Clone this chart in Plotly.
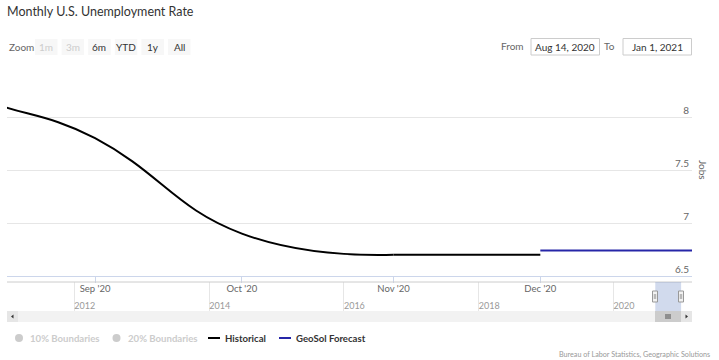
import plotly.graph_objects as go

# ---------------- data ----------------
TITLE = "Monthly U.S. Unemployment Rate"
hist_dates = ["2020-07-01", "2020-08-01", "2020-09-01", "2020-10-01", "2020-11-01", "2020-12-01"]
hist_values = [10.2, 8.4, 7.8, 6.9, 6.7, 6.7]
fc_dates = ["2020-12-01", "2021-01-01"]
fc_values = [6.74, 6.74]
y_tickvals = [6.5, 7, 7.5, 8, 8.5]
y_ticktext = ["6.5", "7", "7.5", "8", ""]
range_start, range_end = "2020-08-14", "2021-01-01"
range_start_label, range_end_label = "Aug 14, 2020", "Jan 1, 2021"
nav_start, nav_end = "2011-01-01", "2021-03-01"
zoom_buttons = ["1m", "3m", "6m", "YTD", "1y", "All"]
zoom_enabled = [False, False, True, True, True, True]
legend_names = ["10% Boundaries", "20% Boundaries", "Historical", "GeoSol Forecast"]
credits = "Bureau of Labor Statistics, Geographic Solutions"
y_title = "Jobs"

FONT = "Lato"
HIST_COLOR = "#000000"
FC_COLOR = "#2626a8"

# pixel -> paper helpers
W, H = 719, 360
L, R, T, B = 7, 692, 64, 322


def px(x):
    return (x - L) / (R - L)


def py(y):
    return (B - y) / (B - T)


fig = go.Figure()
# Historical: smoothed through the monthly points; the final flat stretch
# (equal values) is drawn straight so the spline does not overshoot.
fig.add_trace(go.Scatter(x=hist_dates[:5], y=hist_values[:5], mode="lines", name="Historical",
                         line=dict(color=HIST_COLOR, width=2, shape="spline", smoothing=1.3),
                         xaxis="x", yaxis="y"))
fig.add_trace(go.Scatter(x=hist_dates[4:], y=hist_values[4:], mode="lines", name="Historical",
                         line=dict(color=HIST_COLOR, width=2), showlegend=False,
                         xaxis="x", yaxis="y"))
fig.add_trace(go.Scatter(x=fc_dates, y=fc_values, mode="lines", name="GeoSol Forecast",
                         line=dict(color=FC_COLOR, width=2),
                         xaxis="x", yaxis="y"))
# navigator placeholder (no visible series)
fig.add_trace(go.Scatter(x=[], y=[], xaxis="x2", yaxis="y2", showlegend=False))

shapes = []
ann = []


def rect(x0, y0, x1, y1, fill, line=None, lw=0):
    shapes.append(dict(type="rect", xref="paper", yref="paper", x0=px(x0), x1=px(x1),
                       y0=py(y0), y1=py(y1), fillcolor=fill,
                       line=dict(color=line or fill, width=lw), layer="above"))


def hline(x0, x1, y, color, w=1):
    shapes.append(dict(type="line", xref="paper", yref="paper", x0=px(x0), x1=px(x1),
                       y0=py(y), y1=py(y), line=dict(color=color, width=w), layer="above"))


def vline(x, y0, y1, color, w=1):
    shapes.append(dict(type="line", xref="paper", yref="paper", x0=px(x), x1=px(x),
                       y0=py(y0), y1=py(y1), line=dict(color=color, width=w), layer="above"))


def text(x, y, s, size, color, xanchor="center", bold=False, angle=0):
    ann.append(dict(x=px(x), y=py(y), xref="paper", yref="paper", text=s, showarrow=False,
                    xanchor=xanchor, yanchor="middle", textangle=angle,
                    font=dict(family=FONT, size=size, color=color,
                              weight="bold" if bold else "normal")))


# ---- range selector (zoom buttons) ----
text(7, 47, "Zoom", 10, "#666666", xanchor="left")
bx = 35
for lab, en in zip(zoom_buttons, zoom_enabled):
    rect(bx, 39, bx + 22.5, 55, "#f7f7f7")
    text(bx + 11.25, 47, lab, 10, "#333333" if en else "#cccccc")
    bx += 26.6

# ---- from / to inputs ----
text(526, 46, "From", 10, "#666666", xanchor="right")
rect(531, 38.5, 599.5, 55, "#ffffff", "#cccccc", 1)
text(565, 46.5, range_start_label, 10, "#333333")
text(617, 46, "To", 10, "#666666", xanchor="right")
rect(623, 38.5, 691.5, 55, "#ffffff", "#cccccc", 1)
text(657, 46.5, range_end_label, 10, "#333333")

# ---- y axis title ----
text(703, 170, y_title, 10, "#666666", angle=90)

# ---- navigator ----
hline(L, R, 282, "#cccccc")
shapes.append(dict(type="rect", xref="x2", yref="paper", x0=range_start, x1=range_end,
                   y0=py(311), y1=py(282), fillcolor="rgba(102,133,194,0.3)",
                   line=dict(width=0), layer="above"))
for hx in (655, 681):
    rect(hx - 2.5, 291, hx + 2.5, 302, "#f2f2f2", "#999999", 1)
    vline(hx - 0.7, 294, 299, "#999999", 0.8)
    vline(hx + 0.7, 294, 299, "#999999", 0.8)

# ---- scrollbar ----
rect(L, 311, R, 322, "#f2f2f2")
rect(L, 311, 18, 322, "#e6e6e6")
rect(655, 311, 681, 322, "#cccccc")
rect(681, 311, R, 322, "#e6e6e6")
for gx in (666, 668, 670):
    vline(gx, 314, 319, "#333333", 0.8)
shapes.append(dict(type="path", xref="paper", yref="paper",
                   path="M {} {} L {} {} L {} {} Z".format(px(11), py(316.5), px(13.5), py(314.5), px(13.5), py(318.5)),
                   fillcolor="#333333", line=dict(width=0), layer="above"))
shapes.append(dict(type="path", xref="paper", yref="paper",
                   path="M {} {} L {} {} L {} {} Z".format(px(688), py(316.5), px(685.5), py(314.5), px(685.5), py(318.5)),
                   fillcolor="#333333", line=dict(width=0), layer="above"))

# ---- legend ----
shapes.append(dict(type="circle", xref="paper", yref="paper", x0=px(15), x1=px(23), y0=py(342), y1=py(334),
                   fillcolor="#cccccc", line=dict(width=0)))
text(28, 338, legend_names[0], 9.6, "#cccccc", xanchor="left", bold=True)
shapes.append(dict(type="circle", xref="paper", yref="paper", x0=px(112.5), x1=px(120.5), y0=py(342), y1=py(334),
                   fillcolor="#cccccc", line=dict(width=0)))
text(126, 338, legend_names[1], 9.6, "#cccccc", xanchor="left", bold=True)
hline(208, 220, 338, HIST_COLOR, 2)
text(223, 338, legend_names[2], 9.6, "#333333", xanchor="left", bold=True)
hline(279, 291, 338, FC_COLOR, 2)
text(294, 338, legend_names[3], 9.6, "#333333", xanchor="left", bold=True)

# ---- credits ----
text(712, 354, credits, 7.2, "#999999", xanchor="right")

fig.update_layout(
    width=W, height=H,
    margin=dict(l=L, r=W - R, t=T, b=H - B, pad=0),
    paper_bgcolor="#ffffff", plot_bgcolor="#ffffff",
    showlegend=False,
    font=dict(family=FONT, color="#666666"),
    title=dict(text=TITLE, x=7 / W, xref="container", xanchor="left",
               y=1 - 7 / H, yref="container", yanchor="top",
               font=dict(family=FONT, size=12.5, color="#333333")),
    xaxis=dict(domain=[0, 1], anchor="y", type="date", range=[range_start, range_end],
               tick0="2020-09-01", dtick="M1", tickformat="%b '%y",
               showgrid=False, zeroline=False, showline=True, linecolor="#ccd6eb", linewidth=1,
               ticks="outside", ticklen=6, tickcolor="#ccd6eb", ticklabelstandoff=-2,
               tickfont=dict(family=FONT, size=9.5, color="#666666")),
    yaxis=dict(domain=[py(276), 1], anchor="x", side="right", range=[6.5, 8.5],
               tickvals=y_tickvals, ticktext=y_ticktext, ticklabelposition="inside top",
               showgrid=True, gridcolor="#e6e6e6", zeroline=False, showline=False,
               tickfont=dict(family=FONT, size=10, color="#666666")),
    xaxis2=dict(domain=[0, 1], anchor="y2", type="date", range=[nav_start, nav_end],
                tick0="2012-01-01", dtick="M24", tickformat="%Y",
                ticklabelposition="inside right", ticklabelstandoff=-6,
                showgrid=True, gridcolor="#e6e6e6",
                zeroline=False, showline=False, ticks="",
                tickfont=dict(family=FONT, size=9, color="#999999")),
    yaxis2=dict(domain=[py(311), py(282)], anchor="x2", range=[0, 1],
                showgrid=False, showticklabels=False, zeroline=False),
    shapes=shapes, annotations=ann,
)

fig.write_html("out.html", config={"displayModeBar": False},
               post_script="document.body.style.margin='0';document.body.style.overflow='hidden';")
